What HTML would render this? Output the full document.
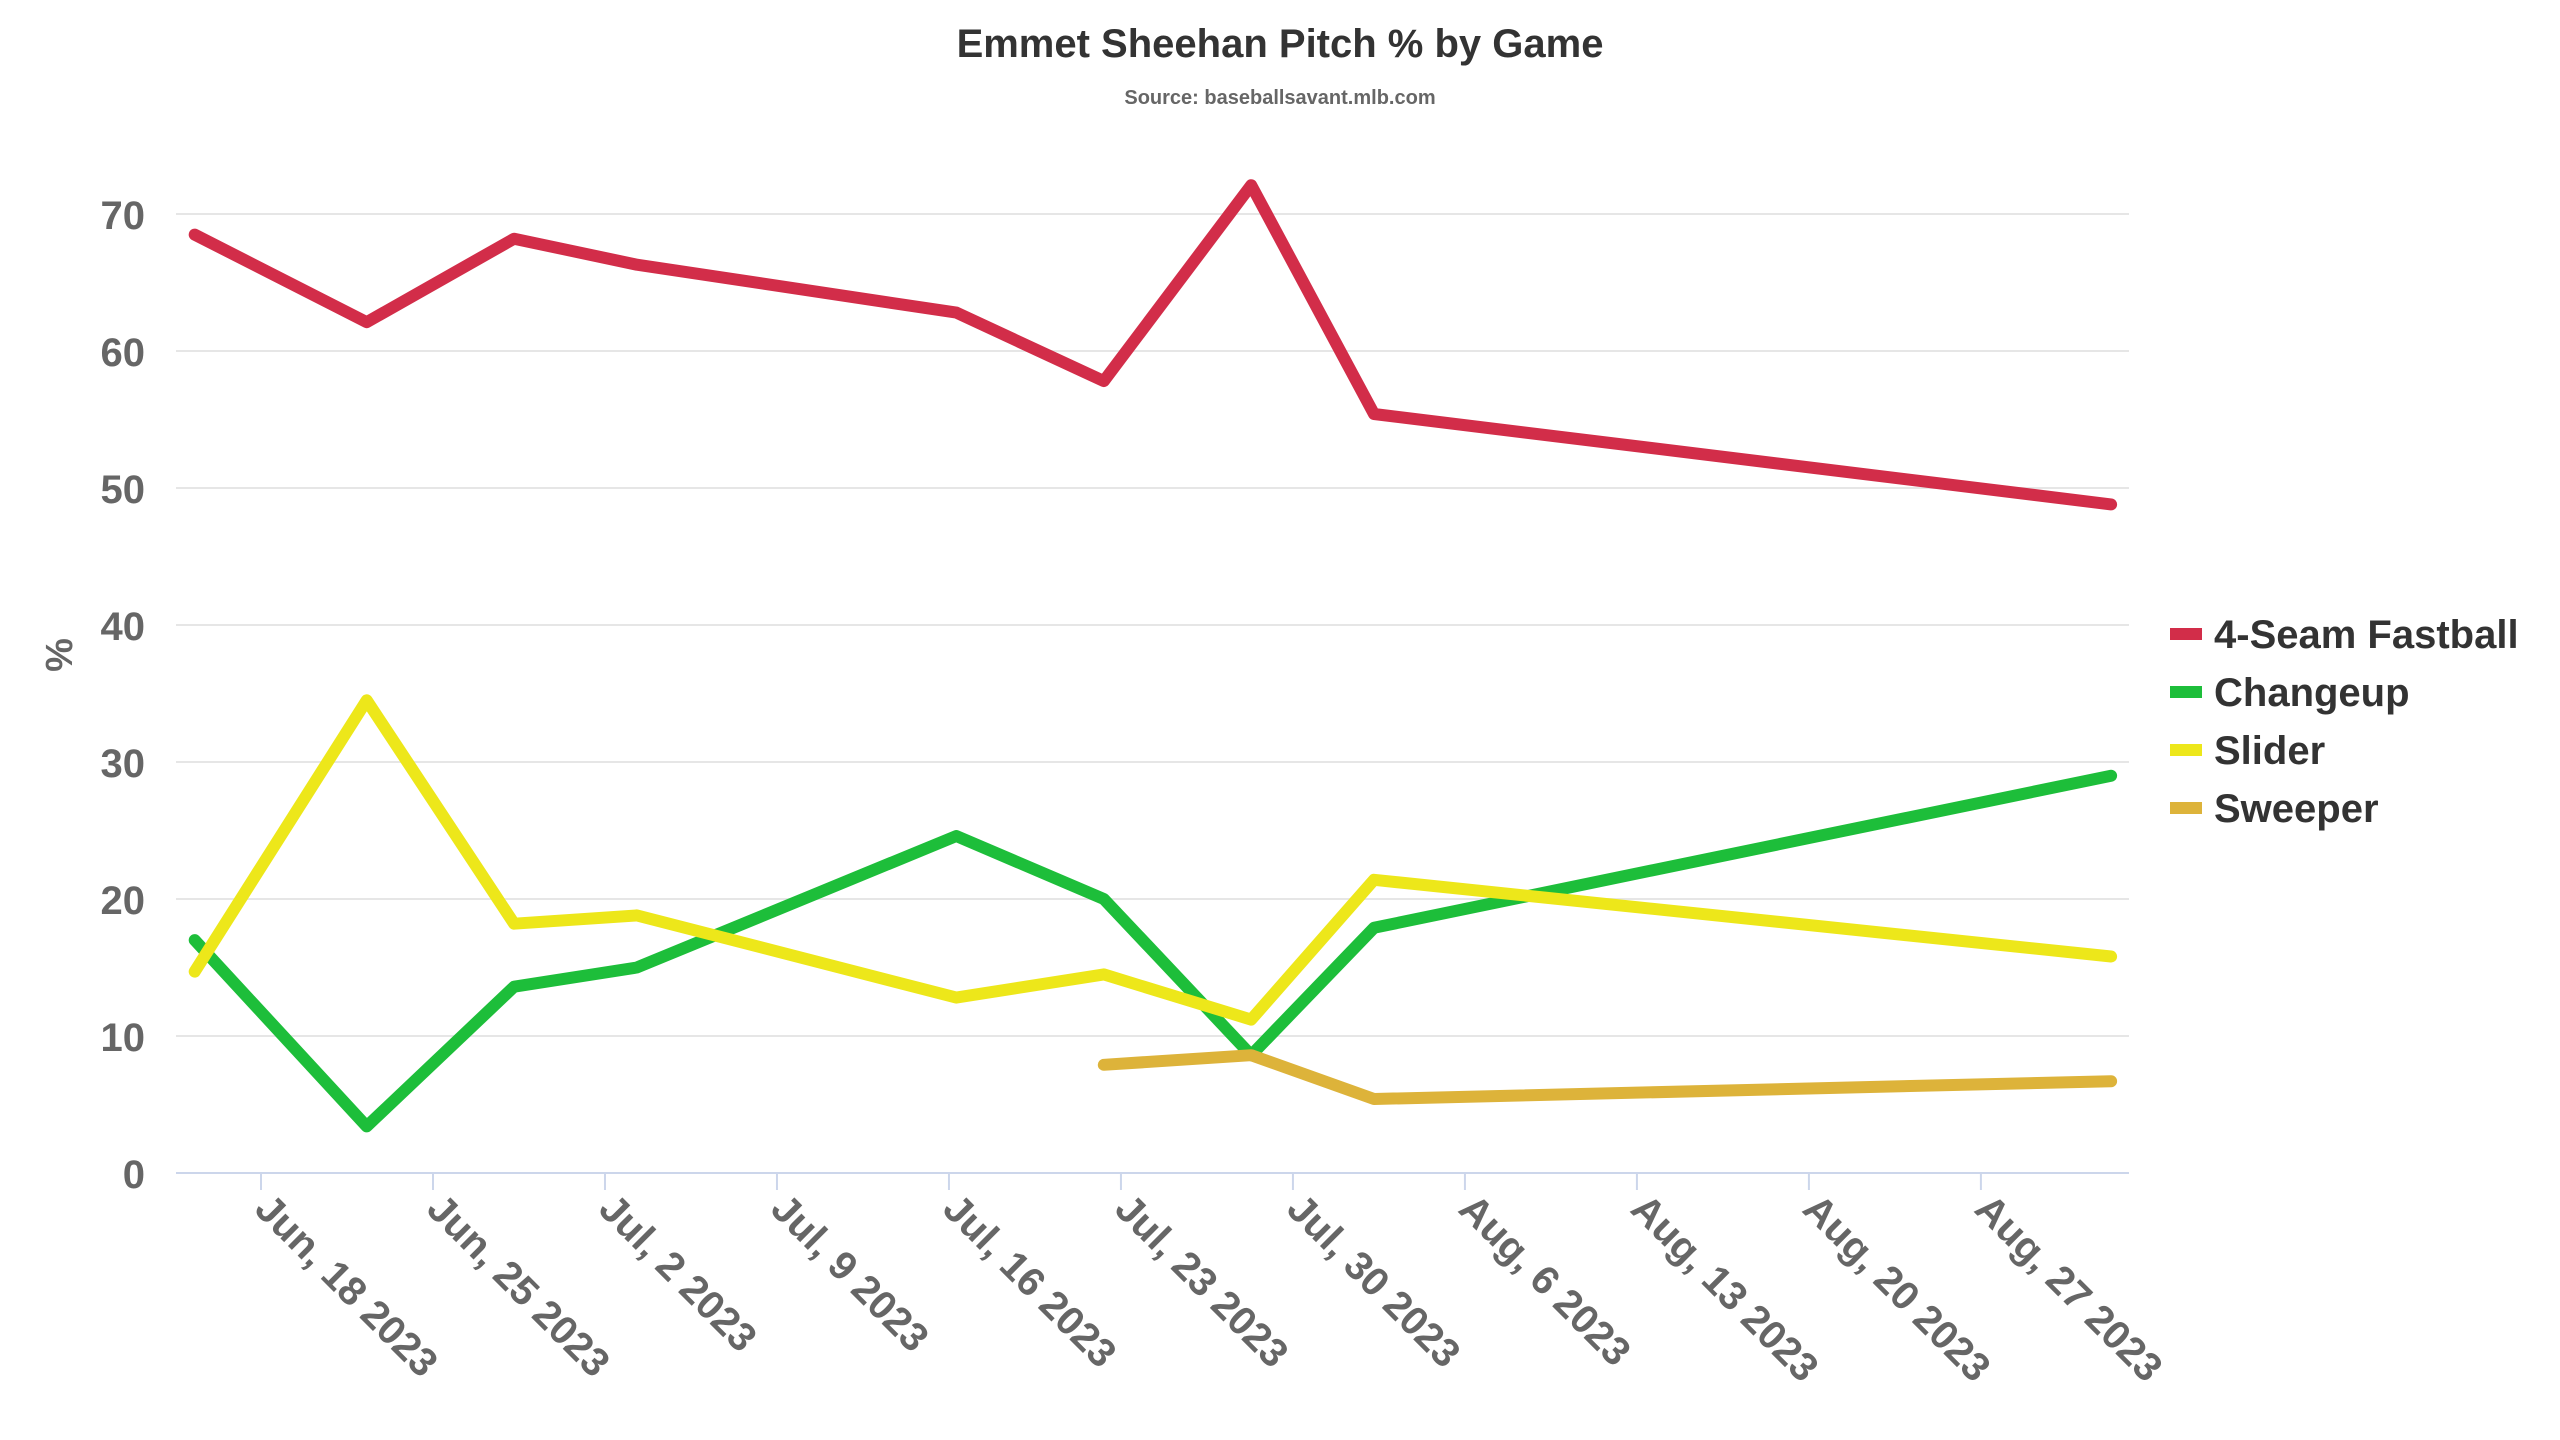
<!DOCTYPE html>
<html><head><meta charset="utf-8"><style>
html,body{margin:0;padding:0;background:#fff;}
svg{display:block;font-family:"Liberation Sans",sans-serif;}
</style></head><body>
<svg id="chart" width="2560" height="1440" viewBox="0 0 2560 1440">
<text x="1280" y="57" text-anchor="middle" font-size="40" font-weight="bold" fill="#333">Emmet Sheehan Pitch % by Game</text>
<text x="1280" y="104" text-anchor="middle" font-size="20" font-weight="bold" fill="#666">Source: baseballsavant.mlb.com</text>
<text transform="translate(72,655) rotate(-90)" text-anchor="middle" font-size="38" font-weight="bold" fill="#666">%</text>
<g id="grid"></g><g id="xaxis"></g><g id="series"></g><g id="legend"></g>
</svg>
<script>
const yTicks=[0,10,20,30,40,50,60,70];
const xTickLabels=["Jun, 18 2023","Jun, 25 2023","Jul, 2 2023","Jul, 9 2023","Jul, 16 2023","Jul, 23 2023","Jul, 30 2023","Aug, 6 2023","Aug, 13 2023","Aug, 20 2023","Aug, 27 2023"];
const xTickDays=[0,7,14,21,28,35,42,49,56,63,70];
// game dates as days since Jun 18 2023
const gameDays=[-3,4,10,15,28,34,40,45,75];
const seriesNames=["4-Seam Fastball","Changeup","Slider","Sweeper"];
const seriesColors=["#d22d49","#1dbe3a","#ede71a","#ddb33a"];
const fastball=[68.5,62.1,68.2,66.3,62.8,57.8,72.1,55.4,48.8];
const changeup=[17.0,3.4,13.6,15.0,24.6,20.0,8.6,17.9,29.0];
const slider=[14.7,34.5,18.2,18.8,12.8,14.5,11.2,21.4,15.8];
const sweeper=[null,null,null,null,null,7.9,8.6,5.4,6.7];
const seriesValues=[fastball,changeup,slider,sweeper];

const NS="http://www.w3.org/2000/svg";
const X0=176,X1=2129,Y0=1173,Y70=214;
function xScale(d){return 261+(d+0.3)*24.57;}
function yScale(v){return Y0-(v/70)*(Y0-Y70);}
function mk(tag,attrs,parent){const e=document.createElementNS(NS,tag);for(const k in attrs)e.setAttribute(k,attrs[k]);parent.appendChild(e);return e;}
const grid=document.getElementById('grid');
yTicks.forEach(t=>{
  const y=yScale(t);
  if(t>0){const l=mk('line',{x1:X0,x2:X1,y1:y,y2:y,stroke:'#e6e6e6','stroke-width':2},grid);
  
  }
  const tx=mk('text',{x:145,y:y+15,'text-anchor':'end','font-size':40,'font-weight':'bold',fill:'#666'},grid);
  tx.textContent=t;
  
  
});
const xa=document.getElementById('xaxis');
const ax=mk('line',{x1:X0,x2:X1,y1:Y0,y2:Y0,stroke:'#ccd6eb','stroke-width':2},xa);


xTickDays.forEach((d,i)=>{
  const x=261+d*24.57;
  const tk=mk('line',{x1:x,x2:x,y1:Y0,y2:Y0+17,stroke:'#ccd6eb','stroke-width':2},xa);
  
  
  const tx=mk('text',{transform:`translate(${x-8},${Y0+38}) rotate(45)`,'font-size':40,'font-weight':'bold',fill:'#666'},xa);
  tx.textContent=xTickLabels[i];
  
  
});
const sg=document.getElementById('series');
seriesValues.forEach((vals,si)=>{
  let pts=[];
  vals.forEach((v,i)=>{if(v!==null)pts.push(xScale(gameDays[i]).toFixed(1)+','+yScale(v).toFixed(1));});
  const p=mk('polyline',{points:pts.join(' '),fill:'none',stroke:seriesColors[si],'stroke-width':12,'stroke-linejoin':'round','stroke-linecap':'round'},sg);
  
  
});
const lg=document.getElementById('legend');
seriesNames.forEach((n,i)=>{
  const y=634+i*58;
  const g=mk('g',{},lg);
  
  
  mk('line',{x1:2170,x2:2202,y1:y,y2:y,stroke:seriesColors[i],'stroke-width':12},g);
  const t=mk('text',{x:2214,y:y+14,'font-size':40,'font-weight':'bold',fill:'#333'},g);
  t.textContent=n;
});
</script>
</body></html>
